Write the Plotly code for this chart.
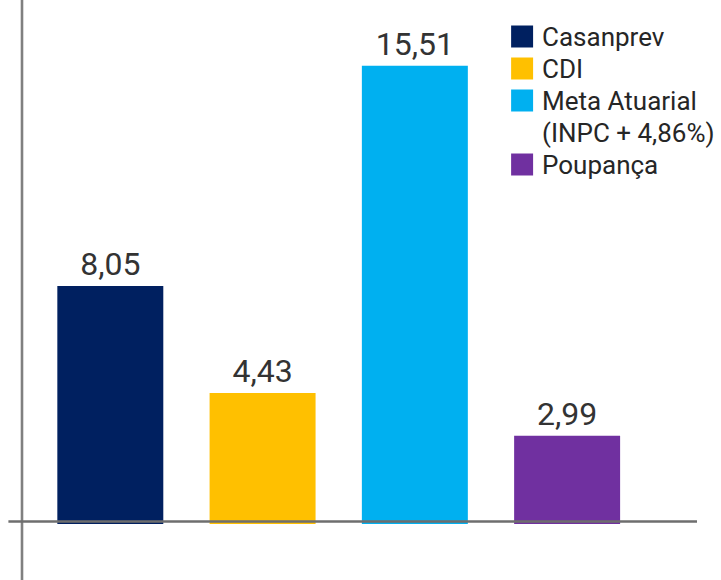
import plotly.graph_objects as go

categories = ["Casanprev", "CDI", "Meta Atuarial", "Poupança"]
values = [8.05, 4.43, 15.51, 2.99]
colors = ["#002060", "#FFC000", "#00B0F0", "#7030A0"]
legend_lines = [["Casanprev"], ["CDI"], ["Meta Atuarial", "(INPC + 4,86%)"], ["Poupança"]]

W, H = 721, 580
plot_h = 524.0
FONT = "Roboto, sans-serif"

fig = go.Figure()
fig.add_trace(go.Bar(
    x=categories, y=values,
    marker=dict(color=colors, line=dict(width=0)),
    width=0.696,
    texttemplate="%{y:.2f}",
    textposition="outside",
    textfont=dict(family=FONT, size=32, color="#333333"),
    cliponaxis=False,
    showlegend=False,
    hoverinfo="skip",
))

shapes = []
plot_w = 697 - 21.6
# vertical axis line spanning the whole picture
shapes.append(dict(type="line", xref="paper", yref="paper",
                   x0=0, x1=0, y0=1 + 5 / plot_h, y1=1 - 585 / plot_h,
                   line=dict(color="#808080", width=2.6)))
# baseline
shapes.append(dict(type="line", xref="paper", yref="paper",
                   x0=(8 - 21.6) / plot_w, x1=1.0,
                   y0=1 - 521.5 / plot_h, y1=1 - 521.5 / plot_h,
                   line=dict(color="#6e6e6e", width=2.6)))

annotations = []
row = 0
sq_x0 = (511 - 21.6) / plot_w
sq_x1 = (533 - 21.6) / plot_w
txt_x = (540 - 21.6) / plot_w
for color, lines in zip(colors, legend_lines):
    cy = 36.5 + 32 * row
    shapes.append(dict(type="rect", xref="paper", yref="paper",
                       x0=sq_x0, x1=sq_x1,
                       y0=1 - (cy - 11) / plot_h, y1=1 - (cy + 11) / plot_h,
                       fillcolor=color, line=dict(width=0)))
    for ln in lines:
        cy = 36.5 + 32 * row
        annotations.append(dict(xref="paper", yref="paper", x=txt_x,
                                y=1 - cy / plot_h, text=ln, showarrow=False,
                                xanchor="left", yanchor="middle",
                                font=dict(family=FONT, size=26, color="#262626")))
        row += 1

fig.update_layout(
    width=W, height=H,
    margin=dict(l=21.6, r=W - 697, t=0, b=H - plot_h, pad=0),
    paper_bgcolor="white", plot_bgcolor="white",
    separators=",.",
    xaxis=dict(range=[-0.58, 3.853], showticklabels=False, showgrid=False,
               zeroline=False, showline=False, ticks=""),
    yaxis=dict(range=[0, plot_h / 29.55], showticklabels=False, showgrid=False,
               zeroline=False, showline=False, ticks=""),
    shapes=shapes,
    annotations=annotations,
    showlegend=False,
    hovermode=False,
)

fig.write_html("out.html", config={"displayModeBar": False},
               post_script="document.body.style.margin='0px';")
